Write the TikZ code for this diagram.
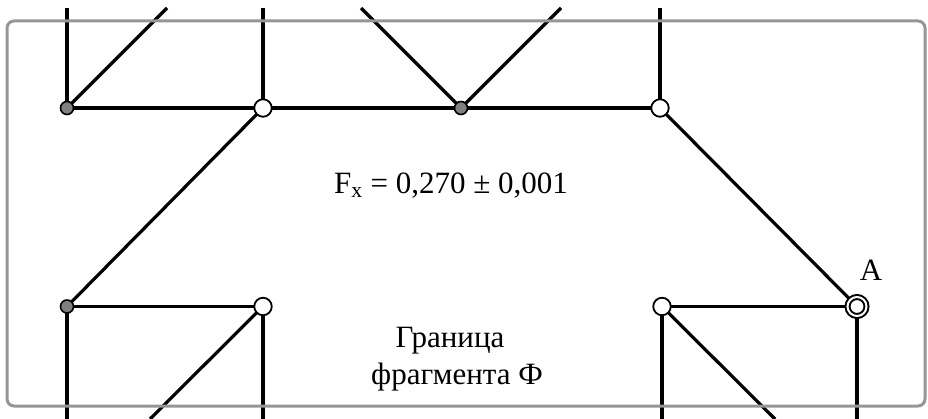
\documentclass[tikz,border=0pt]{standalone}
\usepackage{fontspec}
\setmainfont{Liberation Serif}
\definecolor{nodegray}{RGB}{128,128,128}
\definecolor{framegray}{RGB}{150,150,150}
\begin{document}
\begin{tikzpicture}[x=1pt,y=-1pt,
  edge/.style={line width=3.2pt,black},
  gnode/.style={circle,draw=black,line width=1.6pt,fill=nodegray,minimum size=13pt,inner sep=0pt},
  wnode/.style={circle,draw=black,line width=1.8pt,fill=white,minimum size=17.5pt,inner sep=0pt},
  anode/.style={circle,draw=black,fill=white,line width=2pt,double=white,double distance=2pt,minimum size=19pt,inner sep=0pt},
  lbl/.style={font=\fontsize{31}{37}\selectfont,anchor=base,inner sep=0pt},
  frame/.style={draw=framegray,line width=3pt,rounded corners=7pt}
]
\useasboundingbox (0,0) rectangle (928,419);
% free ends
\coordinate (t1) at (67,8);
\coordinate (t2) at (167,8);
\coordinate (t3) at (263,8);
\coordinate (t4) at (361,8);
\coordinate (t5) at (561,8);
\coordinate (t6) at (660,8);
\coordinate (b1) at (67,419);
\coordinate (b2) at (150,419);
\coordinate (b3) at (263,419);
\coordinate (b4) at (662,419);
\coordinate (b5) at (775,419);
\coordinate (b6) at (857,419);
% node positions
\coordinate (p1) at (67,108);
\coordinate (p2) at (263,108);
\coordinate (p3) at (461,108);
\coordinate (p4) at (660,108);
\coordinate (p5) at (67,306.5);
\coordinate (p6) at (263,306.5);
\coordinate (p7) at (662,306.5);
\coordinate (pA) at (857,306.5);
% edges
\draw[edge] (p1) -- (t1);
\draw[edge] (p1) -- (t2);
\draw[edge] (p1) -- (p2);
\draw[edge] (p2) -- (t3);
\draw[edge] (p2) -- (p3);
\draw[edge] (p2) -- (p5);
\draw[edge] (t4) -- (p3);
\draw[edge] (p3) -- (t5);
\draw[edge] (p3) -- (p4);
\draw[edge] (p4) -- (t6);
\draw[edge] (p4) -- (pA);
\draw[edge] (p5) -- (p6);
\draw[edge] (p5) -- (b1);
\draw[edge] (p6) -- (b2);
\draw[edge] (p6) -- (b3);
\draw[edge] (p7) -- (pA);
\draw[edge] (p7) -- (b4);
\draw[edge] (p7) -- (b5);
\draw[edge] (pA) -- (b6);
% nodes
\node[gnode] (n1) at (p1) {};
\node[wnode] (n2) at (p2) {};
\node[gnode] (n3) at (p3) {};
\node[wnode] (n4) at (p4) {};
\node[gnode] (n5) at (p5) {};
\node[wnode] (n6) at (p6) {};
\node[wnode] (n7) at (p7) {};
\node[anode] (A) at (pA) {};
% labels
\node[lbl] (fx) at (451,194) {F\textsubscript{x} = 0,270 ± 0,001};
\node[lbl] (la) at (871,281) {A};
\node[lbl] (g1) at (450,347) {Граница};
\node[lbl] (g2) at (457,384) {фрагмента Ф};
% frame
\draw[frame] (7,21) rectangle (925,406);
\end{tikzpicture}
\end{document}
